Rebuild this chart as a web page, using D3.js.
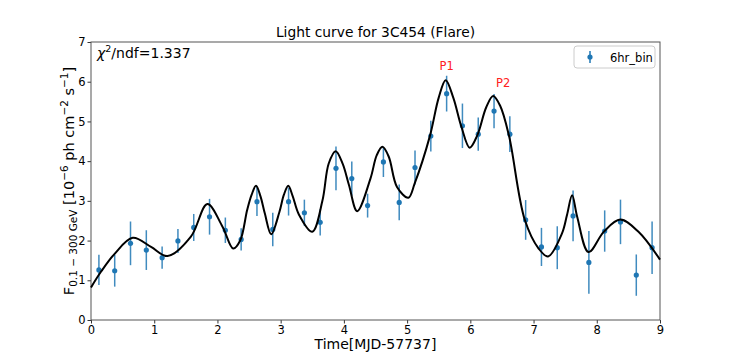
<!DOCTYPE html>
<html><head><meta charset="utf-8">
<script src="https://cdn.jsdelivr.net/npm/d3@7"></script>
<style>
body{margin:0;background:#fff;}
text{font-family:"DejaVu Sans",sans-serif;}
</style></head>
<body><svg id="c" width="734" height="360"></svg>
<script>
// ---- data ----
const times = [0.125,0.375,0.625,0.875,1.125,1.375,1.625,1.875,2.125,2.375,2.625,2.875,3.125,3.375,3.625,3.875,4.125,4.375,4.625,4.875,5.125,5.375,5.625,5.875,6.125,6.375,6.625,6.875,7.125,7.375,7.625,7.875,8.125,8.375,8.625,8.875];
const flux  = [1.26,1.24,1.93,1.76,1.57,1.99,2.33,2.60,2.26,2.03,2.98,2.28,2.98,2.70,2.46,3.82,3.56,2.88,3.98,2.96,3.84,4.63,5.70,4.89,4.68,5.26,4.68,2.52,1.84,1.82,2.62,1.45,2.24,2.47,1.13,1.82];
const fluxErr = [0.38,0.40,0.55,0.50,0.28,0.30,0.34,0.45,0.32,0.28,0.36,0.42,0.35,0.33,0.33,0.55,0.43,0.30,0.38,0.45,0.43,0.39,0.45,0.56,0.42,0.43,0.45,0.50,0.48,0.54,0.64,0.79,0.52,0.56,0.52,0.66];
const fitT = [0,0.16,0.37,0.66,0.95,1.21,1.58,1.84,2.08,2.25,2.36,2.47,2.54,2.61,2.68,2.75,2.85,2.98,3.05,3.12,3.19,3.29,3.50,3.66,3.76,3.87,3.98,4.08,4.21,4.42,4.52,4.61,4.71,4.84,5.02,5.12,5.36,5.50,5.61,5.73,5.86,5.99,6.11,6.25,6.36,6.47,6.61,6.86,7.08,7.23,7.45,7.53,7.61,7.69,7.87,8.11,8.37,8.66,9.0];
const fitF = [0.82,1.22,1.66,2.07,1.84,1.61,2.10,2.92,2.35,1.80,2.00,2.77,3.15,3.38,3.12,2.68,2.16,2.72,3.15,3.38,3.12,2.65,2.22,3.00,3.94,4.25,3.94,3.40,2.74,3.56,4.15,4.36,4.11,3.35,3.08,3.44,4.63,5.60,6.04,5.60,4.86,4.34,4.65,5.35,5.64,5.40,4.65,2.53,1.80,1.60,2.18,2.65,3.14,2.60,1.71,2.22,2.53,2.22,1.52];
const xTicks = [0,1,2,3,4,5,6,7,8,9];
const yTicks = [0,1,2,3,4,5,6,7];
const peakLabels = ["P1","P2"];
const peakT = [5.61,6.36];
const peakF = [6.04,5.64];

const svg = d3.select("#c");
const L=91, R=660, T=42, B=320;
const x = d3.scaleLinear().domain([0,9]).range([L,R]);
const y = d3.scaleLinear().domain([0,7]).range([B,T]);
const blue="#1f77b4";

// axes
svg.append("g").attr("transform",`translate(0,${B})`)
  .call(d3.axisBottom(x).tickValues(xTicks).tickSize(3.5).tickPadding(2).tickFormat(d3.format("d")))
  .call(g=>{g.select(".domain").remove();g.selectAll("line").attr("stroke","#333");g.selectAll("text").attr("font-size",11.5).attr("fill","#000").attr("font-family","DejaVu Sans");});
svg.append("g").attr("transform",`translate(${L},0)`)
  .call(d3.axisLeft(y).tickValues(yTicks).tickSize(3.5).tickPadding(2).tickFormat(d3.format("d")))
  .call(g=>{g.select(".domain").remove();g.selectAll("line").attr("stroke","#333");g.selectAll("text").attr("font-size",11.5).attr("fill","#000").attr("font-family","DejaVu Sans");});

// frame
svg.append("rect").attr("x",L).attr("y",T).attr("width",R-L).attr("height",B-T)
  .attr("fill","none").attr("stroke","#555").attr("stroke-width",1);

// error bars
const pts = times.map((t,i)=>({t, f:flux[i], e:fluxErr[i]}));
svg.append("g").selectAll("line").data(pts).join("line")
  .attr("x1",d=>x(d.t)).attr("x2",d=>x(d.t))
  .attr("y1",d=>y(d.f-d.e)).attr("y2",d=>y(d.f+d.e))
  .attr("stroke",blue).attr("stroke-width",1.5).attr("opacity",0.85);
svg.append("g").selectAll("circle").data(pts).join("circle")
  .attr("cx",d=>x(d.t)).attr("cy",d=>y(d.f)).attr("r",2.6).attr("fill",blue);

// fit curve
const fit = fitT.map((t,i)=>[t,fitF[i]]);
svg.append("path").datum(fit)
  .attr("d",d3.line().x(d=>x(d[0])).y(d=>y(d[1])).curve(d3.curveCatmullRom.alpha(0.5)))
  .attr("fill","none").attr("stroke","#000").attr("stroke-width",2);

// peak labels
const labelDx = [1,10], labelDy = [-10,-9];
svg.append("g").selectAll("text").data(peakLabels).join("text")
  .attr("x",(d,i)=>x(peakT[i])+labelDx[i]).attr("y",(d,i)=>y(peakF[i])+labelDy[i])
  .attr("text-anchor","middle").attr("font-size",11.5).attr("fill","#ff2020").text(d=>d);

// title
svg.append("text").attr("x",(L+R)/2).attr("y",37).attr("text-anchor","middle")
  .attr("font-size",13.8).text("Light curve for 3C454 (Flare)");

// chi2
const chi = svg.append("text").attr("x",97).attr("y",58).attr("font-size",14);
chi.append("tspan").attr("font-style","italic").text("χ");
chi.append("tspan").attr("font-size",9.5).attr("dy",-6).text("2");
chi.append("tspan").attr("dy",6).text("/ndf=1.337");

// x label
svg.append("text").attr("x",(L+R)/2).attr("y",349).attr("text-anchor","middle")
  .attr("font-size",14).text("Time[MJD-57737]");

// y label
const yl = svg.append("text").attr("transform","translate(74,181) rotate(-90)")
  .attr("text-anchor","middle").attr("font-size",14.5);
yl.append("tspan").text("F");
yl.append("tspan").attr("font-size",10.5).attr("dy",3).text("0.1 − 300 GeV");
yl.append("tspan").attr("dy",-3).text(" [10");
yl.append("tspan").attr("font-size",10.5).attr("dy",-6).text("−6");
yl.append("tspan").attr("dy",6).text(" ph cm");
yl.append("tspan").attr("font-size",10.5).attr("dy",-6).text("−2");
yl.append("tspan").attr("dy",6).text(" s");
yl.append("tspan").attr("font-size",10.5).attr("dy",-6).text("−1");
yl.append("tspan").attr("dy",6).text("]");

// legend
const lg = svg.append("g");
lg.append("rect").attr("x",574).attr("y",46).attr("width",81).attr("height",22).attr("rx",3)
  .attr("fill","#fff").attr("stroke","#ccc");
lg.append("line").attr("x1",590).attr("x2",590).attr("y1",51).attr("y2",63).attr("stroke",blue).attr("stroke-width",1.5);
lg.append("circle").attr("cx",590).attr("cy",57).attr("r",2.6).attr("fill",blue);
lg.append("text").attr("x",610).attr("y",61.5).attr("font-size",11.5).text("6hr_bin");
</script></body></html>
